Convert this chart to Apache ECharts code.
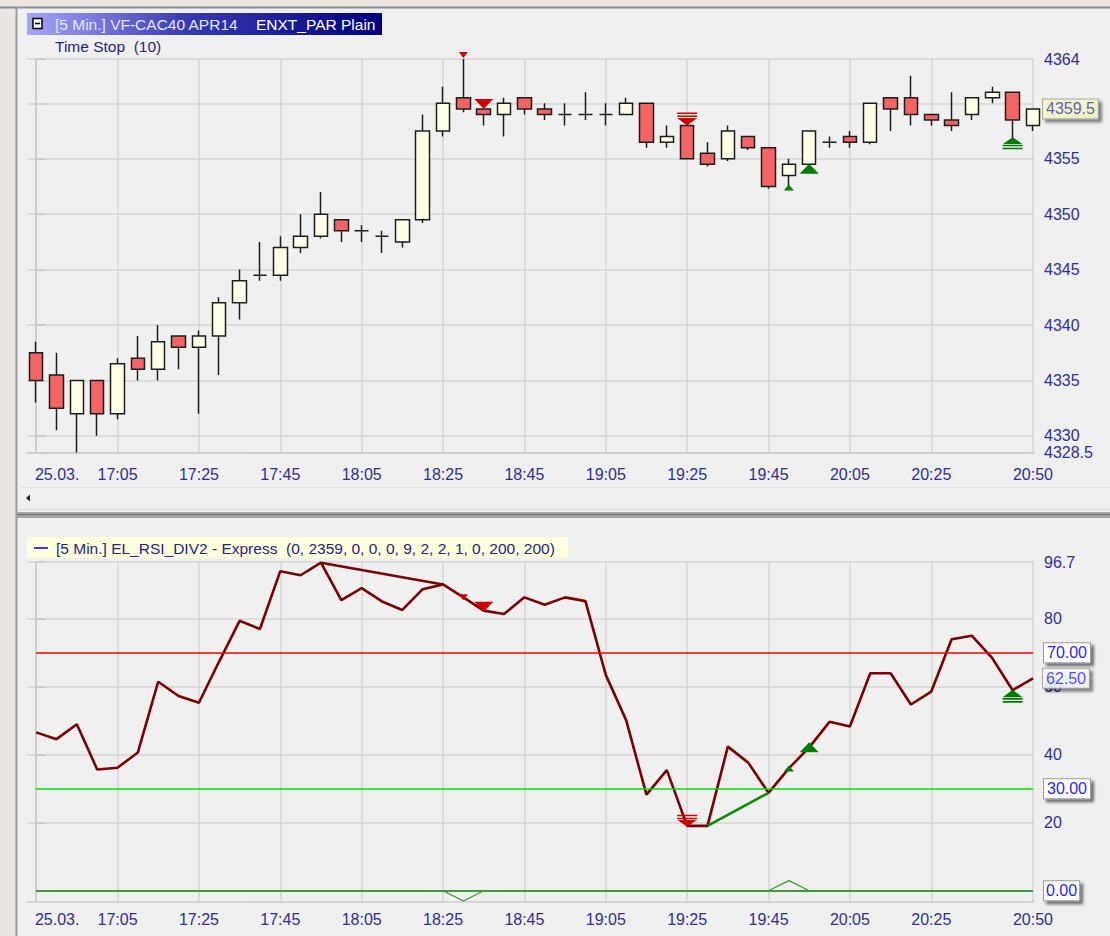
<!DOCTYPE html>
<html><head><meta charset="utf-8">
<script src="https://cdn.jsdelivr.net/npm/echarts@6/dist/echarts.min.js"></script>
<style>html,body{margin:0;padding:0;background:#f0f0f0;}#c{width:1110px;height:936px;}</style>
</head><body><div id="c"></div>
<script>
// ---------- data ----------
const times = ['16:45','16:50','16:55','17:00','17:05','17:10','17:15','17:20','17:25','17:30',
  '17:35','17:40','17:45','17:50','17:55','18:00','18:05','18:10','18:15','18:20',
  '18:25','18:30','18:35','18:40','18:45','18:50','18:55','19:00','19:05','19:10',
  '19:15','19:20','19:25','19:30','19:35','19:40','19:45','19:50','19:55','20:00',
  '20:05','20:10','20:15','20:20','20:25','20:30','20:35','20:40','20:45','20:50'];
const open  = [4337.5,4335.5,4332,4335,4332,4337,4336,4339,4338,4339,
  4342,4344.5,4344.5,4347,4348,4349.5,4348.5,4348,4347.5,4349.5,
  4357.5,4360.5,4359.5,4359,4360.5,4359.5,4359,4359,4359,4359,
  4360,4356.5,4358,4355.5,4355,4357,4356,4353.5,4354.5,4356.5,
  4357,4356.5,4360.5,4360.5,4359,4358.5,4359,4360.5,4361,4358];
const high  = [4338.5,4337.5,4335,4335,4337,4339,4340,4339,4339.5,4342.5,
  4345,4347.5,4348,4350,4352,4349.5,4349,4348.5,4349.5,4359,
  4361.5,4364,4359.5,4360.5,4360.5,4360,4360,4361,4360,4360.5,
  4360,4358,4358,4356.5,4358,4357,4356,4355,4357.5,4357,
  4357.5,4360,4360.5,4362.5,4359,4361,4360.5,4361.5,4361,4359.5];
const low   = [4333,4330.5,4328.5,4330,4331.5,4335,4335,4336,4332,4335.5,
  4340.5,4344,4344,4346.5,4347.8,4347.5,4347.5,4346.5,4347,4349.2,
  4357,4359.2,4358,4357,4359,4358.5,4358,4358.5,4358,4359,
  4356,4356,4355,4354.3,4354.8,4355.8,4352.3,4352.5,4354.5,4356,
  4356,4356.3,4357.5,4358,4358,4357.5,4358.5,4360,4356.5,4357.5];
const close = [4335,4332.5,4335,4332,4336.5,4336,4338.5,4338,4339,4342,
  4344,4344.5,4347,4348,4350,4348.5,4348.5,4348,4349.5,4357.5,
  4360,4359.5,4359,4360,4359.5,4359,4359,4359,4359,4360,
  4356.5,4357,4355,4354.5,4357.5,4356,4352.5,4354.5,4357.5,4356.5,
  4356.5,4360,4359.5,4359,4358.5,4358,4360.5,4361,4358.5,4359.5];
const rsi = [46.6,44.6,49.0,35.7,36.2,40.7,61.5,57.3,55.3,67.5,
  79.4,77.0,94.0,92.8,96.5,85.5,89.0,85.1,82.6,88.7,
  90.1,86.3,82.4,81.4,86.3,84.1,86.3,85.2,63.5,50.2,
  28.3,35.5,19.1,19.1,42.4,37.7,28.8,36.0,42.2,49.7,
  48.3,64.0,64.0,54.8,58.6,74.0,75.0,68.4,59.0,62.5];
const divSignal = [0,0,0,0,0,0,0,0,0,0, 0,0,0,0,0,0,0,0,0,0,
  0,-3,0,0,0,0,0,0,0,0, 0,0,0,0,0,0,0,3,0,0, 0,0,0,0,0,0,0,0,0,0];
const bearDivBars = [14, 20];
const bullDivBars = [33, 36];
const sellSmallBars = [21];
const sellBigBars = [22];
const sellStopBars = [32];
const buySmallBars = [37];
const buyBigBars = [38];
const buyStopBars = [48];
const overbought = 70;
const oversold = 30;
const dateLabel = '25.03.';
const timeLabels = ['17:05','17:25','17:45','18:05','18:25','18:45','19:05','19:25','19:45','20:05','20:25','20:50'];
const priceGrid = [4328.5,4330,4335,4340,4345,4350,4355,4360,4364];
const priceLabels = [4328.5,4330,4335,4340,4345,4350,4355,4364];
const rsiGrid = [20,40,60,80,96.7];
const rsiLabels = [20,40,60,80,96.7];
const rsiParams = [0, 2359, 0, 0, 0, 9, 2, 2, 1, 0, 200, 200];
const symbolTitle = '[5 Min.] VF-CAC40 APR14';
const exchangeTitle = 'ENXT_PAR Plain';
const strategyTitle = 'Time Stop\u00a0 (10)';
const indicatorTitle = '[5 Min.] EL_RSI_DIV2 - Express\u00a0 (' + rsiParams.join(', ') + ')';

// ---------- chart ----------
const FONT = '"Liberation Sans", Arial, sans-serif';
const AXC = '#2e2e98';
const N = times.length;
const labelIdx = [0].concat(timeLabels.map(t => times.indexOf(t)));
const RED = '#cc0000', GREEN = '#007d00', RSIC = '#7a0000';
const triDown = 'path://M0,0L20,0L10,10Z';
const triUp = 'path://M10,0L20,10L0,10Z';
const stopDown = 'path://M0,0H20V1.6H0Z M0,3H20V4.6H0Z M0,5.4L20,5.4L10,13Z';
const stopUp = 'path://M10,0L20,7.6L0,7.6Z M0,8.4H20V10H0Z M0,11.4H20V13H0Z';

function mkX(gi, margin) {
  return {
    type: 'value', gridIndex: gi, min: -0.45, max: N - 0.95,
    axisLine: { show: true, onZero: false, lineStyle: { color: '#cdcdcd', width: 1.5 } },
    axisTick: { show: false, customValues: labelIdx },
    splitLine: { show: true, lineStyle: { color: '#d6d6d6', width: 1.5 } },
    axisLabel: {
      customValues: labelIdx, margin: margin, color: AXC, fontSize: 16, fontFamily: FONT,
      formatter: v => { const i = Math.round(v); return i === 0 ? '{d|' + dateLabel + '}' : times[i]; },
      rich: { d: { padding: [0, 0, 0, 42], color: AXC, fontSize: 16, fontFamily: FONT } }
    }
  };
}
function mkY(gi, min, max, grid, labels) {
  return {
    type: 'value', gridIndex: gi, position: 'right', min: min, max: max,
    axisLine: { show: true, lineStyle: { color: '#c8c8c8', width: 1.5 } },
    axisTick: { show: true, length: 9, customValues: grid, lineStyle: { color: '#c8c8c8', width: 1.5 } },
    splitLine: { show: true, lineStyle: { color: '#d6d6d6', width: 1.5 } },
    axisLabel: { customValues: labels, margin: 10, color: AXC, fontSize: 16, fontFamily: FONT, formatter: v => String(v) }
  };
}
function marker(gi, bars, vals, symbol, size, offset, color) {
  return {
    type: 'scatter', xAxisIndex: gi, yAxisIndex: gi, clip: false, silent: true, z: 6,
    data: bars.map(i => [i, vals[i]]), symbol: symbol, symbolSize: size,
    symbolOffset: [0, offset], itemStyle: { color: color, opacity: 1 }
  };
}
function tagLabel(text, bg, color, extra) {
  return Object.assign({
    show: true, formatter: text, color: color, backgroundColor: bg, fontSize: 16, fontFamily: FONT,
    borderColor: '#9a9a9a', borderWidth: 1, padding: [2, 3, 1, 3],
    shadowColor: 'rgba(0,0,0,0.55)', shadowOffsetX: 3, shadowOffsetY: 3, shadowBlur: 3
  }, extra || {});
}
function levelSeries(level, color, width, tag) {
  return {
    type: 'line', xAxisIndex: 1, yAxisIndex: 1, data: [], silent: true, z: 3,
    markLine: {
      silent: true, symbol: ['none', 'none'], animation: false,
      lineStyle: { color: color, width: width, type: 'solid', opacity: 1 },
      emphasis: { disabled: true },
      label: tagLabel(tag, '#ffffff', '#1f1fff', { position: 'end', distance: 11 }),
      data: [[{ coord: [0, level] }, { coord: [N - 1, level] }]]
    }
  };
}

const candle = times.map((t, i) => [i, open[i], close[i], low[i], high[i]]);
const rsiLine = times.map((t, i) => [i, rsi[i]]);
const sigLine = times.map((t, i) => [i, divSignal[i]]);

const option = {
  backgroundColor: '#f0f0f0',
  animation: false,
  textStyle: { fontFamily: FONT },
  grid: [
    { left: 27, right: 76, top: 59, height: 393.5 },
    { left: 27, right: 76, top: 562, height: 339.7 }
  ],
  xAxis: [mkX(0, 14), mkX(1, 10)],
  yAxis: [mkY(0, 4328.5, 4364, priceGrid, priceLabels), mkY(1, -3.2, 96.7, rsiGrid, rsiLabels)],
  series: [
    {
      type: 'candlestick', xAxisIndex: 0, yAxisIndex: 0, data: candle, barWidth: 14,
      encode: { x: 0, y: [1, 2, 3, 4] }, silent: true, z: 3,
      itemStyle: { color: '#ffffe6', color0: '#f46464', borderColor: '#1c1c1c', borderColor0: '#1c1c1c', borderWidth: 1.5 }
    },
    marker(0, sellSmallBars, high, triDown, [9, 6], -4, RED),
    marker(0, sellBigBars, high, triDown, [19, 10], -5, RED),
    marker(0, sellStopBars, high, stopDown, [20, 13], -6.5, RED),
    marker(0, buySmallBars, low, triUp, [10, 6], 1, GREEN),
    marker(0, buyBigBars, low, triUp, [19, 10], 4.5, GREEN),
    marker(0, buyStopBars, low, stopUp, [20, 12], 1, GREEN),
    {
      type: 'scatter', xAxisIndex: 0, yAxisIndex: 0, clip: false, silent: true, z: 8,
      data: [[N - 1, close[N - 1]]], symbolSize: 0,
      label: tagLabel(p => p.value[1].toFixed(1), '#ffffcc', '#3434b4', { position: 'right', distance: 10 })
    },
    // RSI panel
    {
      type: 'line', xAxisIndex: 1, yAxisIndex: 1, data: sigLine, symbol: 'none', silent: true, z: 2,
      lineStyle: { color: '#2f9a2f', width: 1.2 },
      markLine: {
        silent: true, symbol: ['none', 'none'],
        lineStyle: { color: '#3d9a3d', width: 2.2, type: 'solid', opacity: 1 },
        label: tagLabel('0.00', '#ffffff', '#1f1fff', { position: 'end', distance: 11, padding: [2, 2, 1, 2] }),
        data: [[{ coord: [0, 0] }, { coord: [N - 1, 0] }]]
      }
    },
    levelSeries(overbought, '#ff0000', 1.5, overbought.toFixed(2)),
    levelSeries(oversold, '#00e000', 1.5, oversold.toFixed(2)),
    {
      type: 'line', xAxisIndex: 1, yAxisIndex: 1, data: rsiLine, symbol: 'none', silent: true, z: 4,
      lineStyle: { color: RSIC, width: 2.6 }
    },
    {
      type: 'line', xAxisIndex: 1, yAxisIndex: 1, data: bearDivBars.map(i => [i, rsi[i]]), symbol: 'none', silent: true, z: 4,
      lineStyle: { color: RSIC, width: 2.6 }
    },
    {
      type: 'line', xAxisIndex: 1, yAxisIndex: 1, data: bullDivBars.map(i => [i, rsi[i]]), symbol: 'none', silent: true, z: 4,
      lineStyle: { color: '#108a10', width: 2.6 }
    },
    marker(1, sellSmallBars, rsi, triDown, [9, 6], 0, RED),
    marker(1, sellBigBars, rsi, triDown, [19, 10], -4, RED),
    marker(1, sellStopBars, rsi, stopDown, [20, 12], -5, RED),
    marker(1, buySmallBars, rsi, triUp, [10, 6], 0, GREEN),
    marker(1, buyBigBars, rsi, triUp, [19, 10], 0, GREEN),
    marker(1, buyStopBars, rsi, stopUp, [20, 13], 6, GREEN),
    {
      type: 'scatter', xAxisIndex: 1, yAxisIndex: 1, clip: false, silent: true, z: 8,
      data: [[N - 1, rsi[N - 1]]], symbolSize: 0,
      label: tagLabel(p => p.value[1].toFixed(2), '#ffffff', '#1f1fff', { position: 'right', distance: 10 })
    }
  ],
  graphic: [
    { type: 'rect', silent: true, z: -10, shape: { x: 0, y: 0, width: 16, height: 936 }, style: { fill: '#ebe6e4' } },
    { type: 'rect', silent: true, z: -10, shape: { x: 0, y: 0, width: 1110, height: 7 }, style: { fill: '#ebe6e1' } },
    { type: 'line', silent: true, shape: { x1: 0, y1: 7.5, x2: 1110, y2: 7.5 }, style: { stroke: '#8c8c8c', lineWidth: 2 } },
    { type: 'line', silent: true, shape: { x1: 16.5, y1: 7, x2: 16.5, y2: 936 }, style: { stroke: '#9b9b9b', lineWidth: 2 } },
    { type: 'rect', silent: true, shape: { x: 27, y: 13, width: 355, height: 22 },
      style: { fill: new echarts.graphic.LinearGradient(0, 0, 1, 0, [{ offset: 0, color: '#a6a6f6' }, { offset: 0.45, color: '#3a3ab0' }, { offset: 1, color: '#00007e' }]) } },
    { type: 'rect', silent: true, shape: { x: 33, y: 18.5, width: 9, height: 10 }, style: { fill: '#ffffff', stroke: '#000000', lineWidth: 1.5 } },
    { type: 'line', silent: true, shape: { x1: 35, y1: 23.5, x2: 40, y2: 23.5 }, style: { stroke: '#000000', lineWidth: 1.6 } },
    { type: 'text', silent: true, x: 55, y: 24, style: { text: symbolTitle, fill: '#e6e6ff', font: '15.5px ' + FONT, textAlign: 'left', align: 'left', textVerticalAlign: 'middle', verticalAlign: 'middle' } },
    { type: 'text', silent: true, x: 256, y: 24, style: { text: exchangeTitle, fill: '#ffffff', font: '15.5px ' + FONT, textAlign: 'left', align: 'left', textVerticalAlign: 'middle', verticalAlign: 'middle' } },
    { type: 'text', silent: true, x: 55, y: 46, style: { text: strategyTitle, fill: '#23238c', font: '15.5px ' + FONT, textAlign: 'left', align: 'left', textVerticalAlign: 'middle', verticalAlign: 'middle' } },
    { type: 'line', silent: true, shape: { x1: 17, y1: 487.5, x2: 1110, y2: 487.5 }, style: { stroke: '#e2e2e2', lineWidth: 1 } },
    { type: 'line', silent: true, shape: { x1: 17, y1: 509.5, x2: 1110, y2: 509.5 }, style: { stroke: '#d6d6d6', lineWidth: 1 } },
    { type: 'polygon', silent: true, shape: { points: [[26, 498], [30, 494.5], [30, 501.5]] }, style: { fill: '#222222' } },
    { type: 'rect', silent: true, shape: { x: 17, y: 512, width: 1093, height: 6 }, style: { fill: '#a4a4a4' } },
    { type: 'line', silent: true, shape: { x1: 17, y1: 514.5, x2: 1110, y2: 514.5 }, style: { stroke: '#6c6c6c', lineWidth: 1 } },
    { type: 'rect', silent: true, shape: { x: 27, y: 537, width: 541, height: 21 }, style: { fill: '#ffffdc' } },
    { type: 'line', silent: true, shape: { x1: 34, y1: 548, x2: 48, y2: 548 }, style: { stroke: '#1010e0', lineWidth: 1.6 } },
    { type: 'text', silent: true, x: 56, y: 548, style: { text: indicatorTitle, fill: '#23238c', font: '15.5px ' + FONT, textAlign: 'left', align: 'left', textVerticalAlign: 'middle', verticalAlign: 'middle' } }
  ]
};
const chart = echarts.init(document.getElementById('c'), null, { renderer: 'svg', width: 1110, height: 936 });
chart.setOption(option);
</script>
</body></html>
